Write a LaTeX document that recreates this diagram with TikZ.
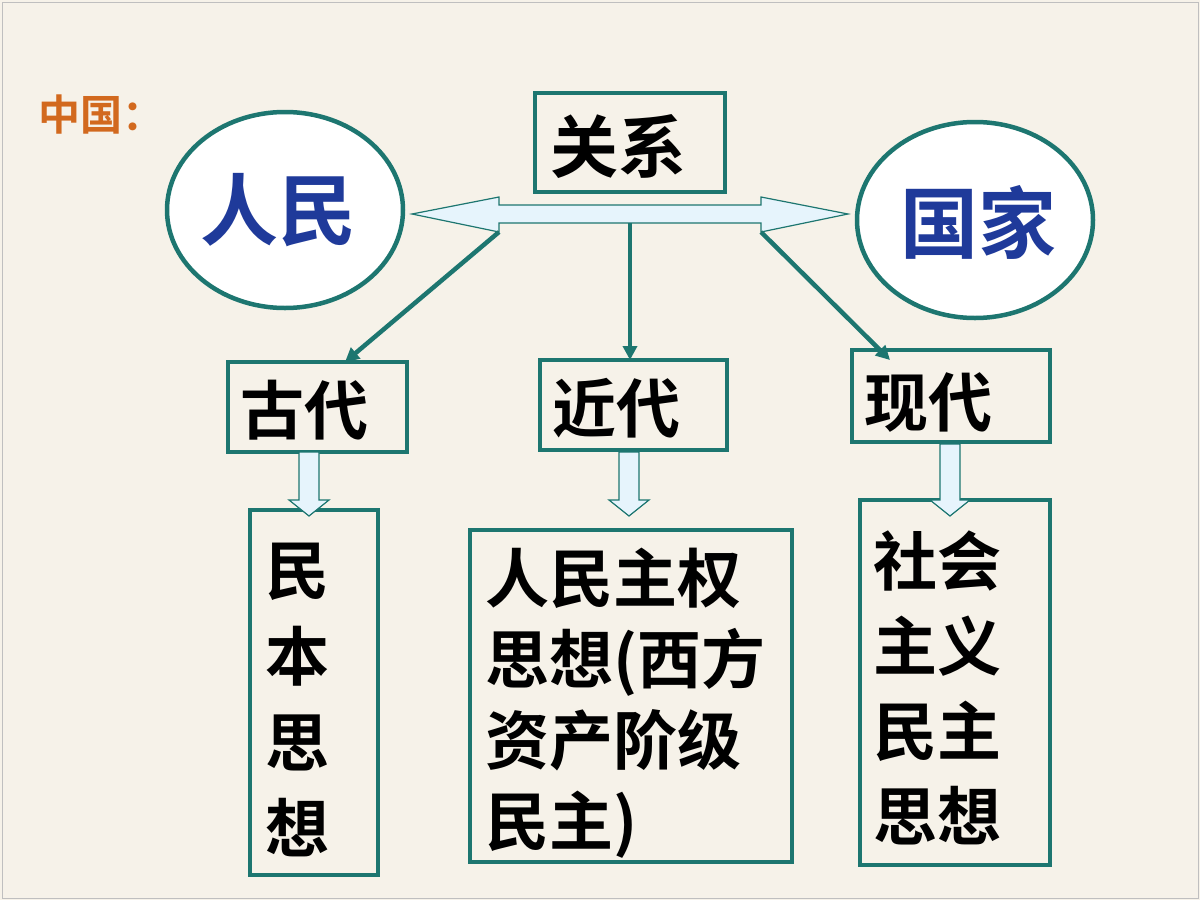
\documentclass[tikz,border=0pt]{standalone}
\usepackage{fontspec}
\setmainfont{Noto Sans CJK SC}
\newfontfamily\cjkb{Noto Sans CJK SC}[UprightFont=* Bold]
\usetikzlibrary{arrows.meta}
\definecolor{bg}{HTML}{F6F2E9}
\definecolor{teal}{HTML}{1D7670}
\definecolor{lb}{HTML}{E6F4FC}
\definecolor{org}{HTML}{D2691E}
\definecolor{blu}{HTML}{1F3A9A}
\begin{document}
\begin{tikzpicture}[x=1pt,y=-1pt,
  bx/.style={draw=teal,line width=3.5pt,fill=bg},
  el/.style={draw=teal,line width=4.5pt,fill=white},
  txt/.style={font=\cjkb\fontsize{64}{78}\selectfont,anchor=west,align=left,inner sep=0},
  conn/.style={draw=teal,line width=4.5pt,-{Triangle[length=14pt,width=14pt]}},
  hol/.style={draw=teal,line width=1.2pt,fill=lb}]
\fill[bg] (0,0) rectangle (1200,900);
\draw[gray!50,line width=1pt] (2,2) rectangle (1198,898);
\node[font=\cjkb\fontsize{42}{44}\selectfont,text=org,anchor=west,inner sep=0] (zg) at (38,115) {中国：};
\filldraw[el] (285,210) ellipse [x radius=118,y radius=98];
\node[font=\cjkb\fontsize{78}{80}\selectfont,text=blu] (rm) at (278,210) {人民};
\filldraw[el] (975,220) ellipse [x radius=118,y radius=98];
\node[font=\cjkb\fontsize{78}{80}\selectfont,text=blu] (gj) at (978,222) {国家};
\draw[bx] (535,93) rectangle (725,192);
\node[txt,font=\cjkb\fontsize{68}{70}\selectfont] (gx) at (550,147) {关系};
% double arrow
\draw[hol] (412,214) -- (499,197) -- (499,205) -- (761,205) -- (761,197) -- (848,214) -- (761,232) -- (761,223) -- (499,223) -- (499,232) -- cycle;
\coordinate (pl) at (499,232); \coordinate (pm) at (630,223); \coordinate (pr) at (761,232);
\draw[bx] (228,362) rectangle (407,452); \node[txt] (gd) at (240,410) {古代};
\draw[bx] (540,360) rectangle (727,450); \node[txt] (jd) at (552,408) {近代};
\draw[bx] (852,350) rectangle (1050,442); \node[txt] (xd) at (864,402) {现代};
\coordinate (tl) at (345,362); \coordinate (tm) at (630,360); \coordinate (tr) at (890,360);
\draw[conn] (pl) -- (tl);
\draw[conn] (pm) -- (tm);
\draw[conn] (pr) -- (tr);
\draw[bx] (250,510) rectangle (378,875);
\draw[bx] (470,530) rectangle (792,862);
\draw[bx] (860,500) rectangle (1050,865);
\foreach \c/\t in {309/452,629/452,950/444}{
  \draw[hol] (\c-10,\t) -- (\c+10,\t) -- (\c+10,500) -- (\c+20,500) -- (\c,516) -- (\c-20,500) -- (\c-10,500) -- cycle;}
\node[txt,font=\cjkb\fontsize{64}{86}\selectfont] (mb) at (265,700) {民\\本\\思\\想};
\node[txt,font=\cjkb\fontsize{64}{81}\selectfont] (rq) at (485,703) {人民主权\\思想(西方\\资产阶级\\民主)};
\node[txt,font=\cjkb\fontsize{64}{85}\selectfont] (sh) at (873,688) {社会\\主义\\民主\\思想};
\end{tikzpicture}
\end{document}
